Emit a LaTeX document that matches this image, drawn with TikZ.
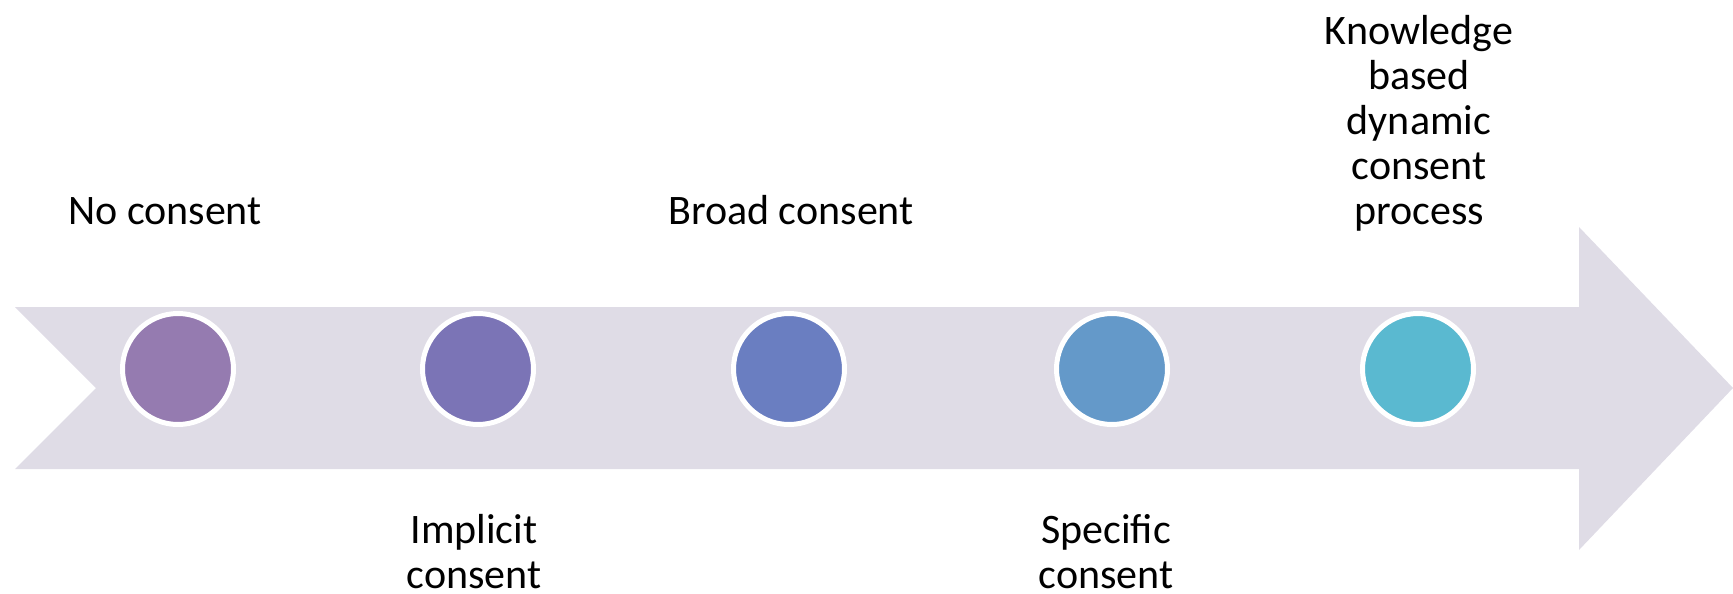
\documentclass[tikz,border=0pt]{standalone}
\usepackage{fontspec}
\setmainfont{Carlito}
\definecolor{band}{HTML}{DFDCE6}
\definecolor{dotA}{HTML}{957BB0}
\definecolor{dotB}{HTML}{7B74B6}
\definecolor{dotC}{HTML}{6A7EC1}
\definecolor{dotD}{HTML}{6499C9}
\definecolor{dotE}{HTML}{5AB9D0}
\begin{document}
\begin{tikzpicture}[x=1pt,y=-1pt,
  dot/.style={circle,draw=white,line width=5pt,minimum size=111pt,inner sep=0pt},
  label/.style={anchor=base,align=center,font=\fontsize{42}{45}\selectfont,text=black,inner sep=0pt}]
  \useasboundingbox (0,0) rectangle (1733,594);
  % timeline arrow with notched tail
  \fill[band] (15,307) -- (1579,307) -- (1579,227) -- (1733,388) -- (1579,550)
    -- (1579,469) -- (15,469) -- (96,388) -- cycle;
  % stage markers
  \node[dot,fill=dotA] (s1) at (178,369) {};
  \node[dot,fill=dotB] (s2) at (478,369) {};
  \node[dot,fill=dotC] (s3) at (789,369) {};
  \node[dot,fill=dotD] (s4) at (1112,369) {};
  \node[dot,fill=dotE] (s5) at (1418,369) {};
  % stage labels (base anchor sits on the last line)
  \node[label] (t1) at (165,224) {No consent};
  \node[label] (t2) at (474,588) {Implicit\\consent};
  \node[label] (t3) at (791,224) {Broad consent};
  \node[label] (t4) at (1106,588) {Specific\\consent};
  \node[label] (t5) at (1419,224) {Knowledge\\based\\dynamic\\consent\\process};
\end{tikzpicture}
\end{document}
